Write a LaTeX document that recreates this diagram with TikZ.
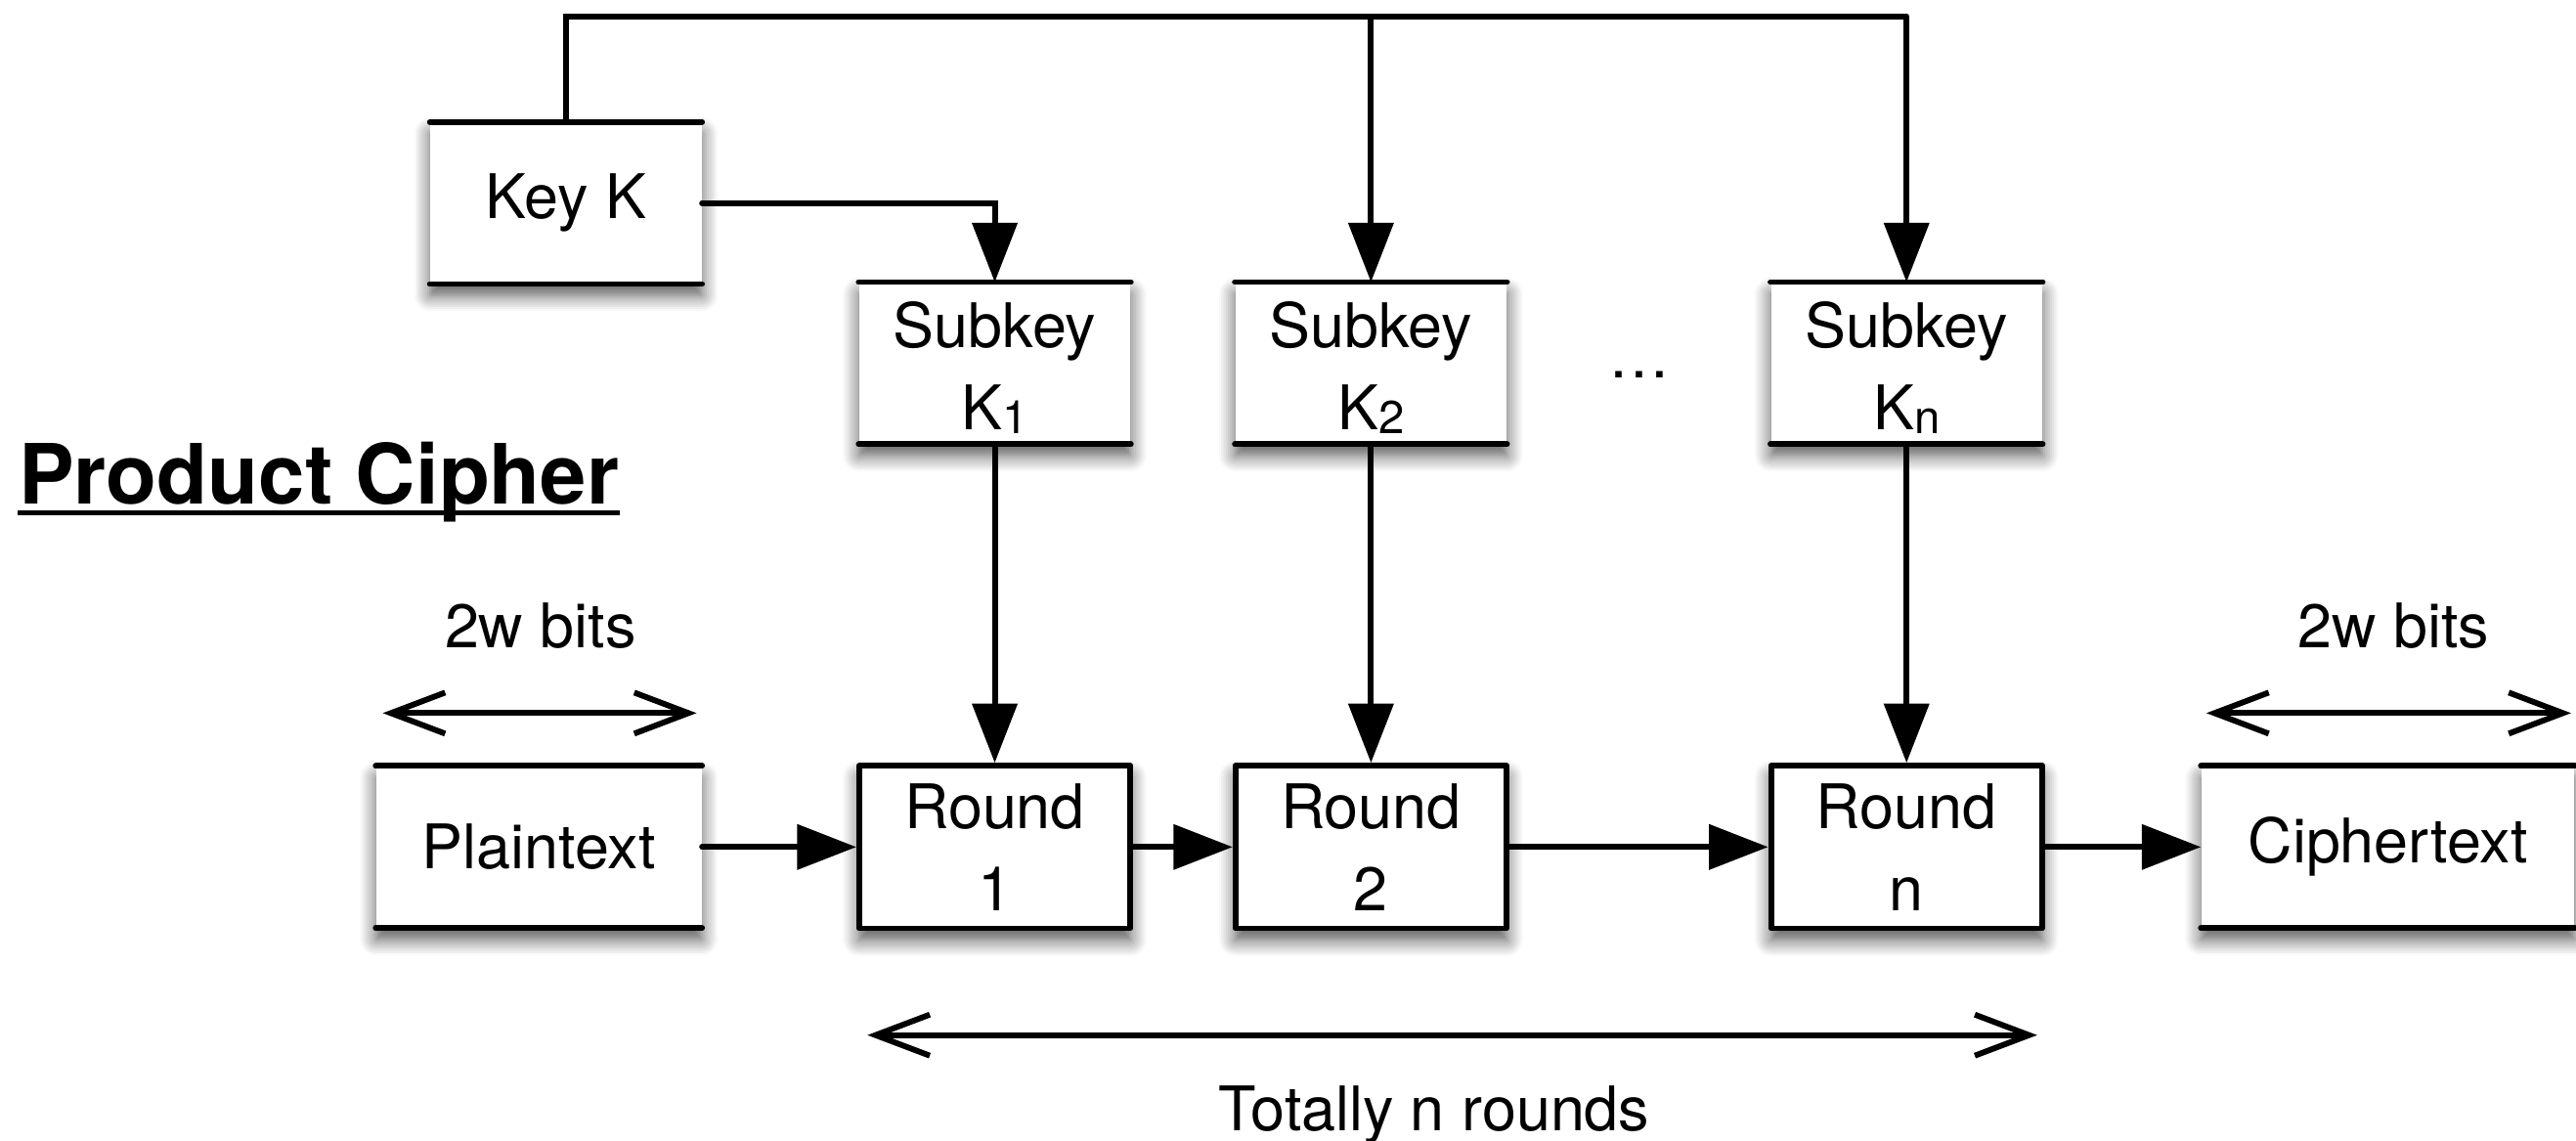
\documentclass[tikz,border=0pt]{standalone}
\usepackage{fontspec}
\setmainfont{TeX Gyre Heros}
\usetikzlibrary{arrows.meta,shadows.blur}

% small index after a key name, e.g. K1
\newcommand\kidx[1]{\raisebox{-0.06em}{\fontsize{16}{16}\selectfont #1}}

\begin{document}
\begin{tikzpicture}[x=0.02cm,y=-0.02cm,
  font=\fontsize{21.3}{28.5}\selectfont,
  wire/.style={line width=2pt,line cap=round},
  arr/.style={wire,-{Triangle[length=0.72cm,width=0.54cm]}},
  span/.style={wire,{Straight Barb[length=0.66cm,width=0.5cm]}-{Straight Barb[length=0.66cm,width=0.5cm]}},
  softshadow/.style={blur shadow={shadow xshift=0pt,shadow yshift=-0.14cm,
      shadow blur radius=0.2cm,shadow opacity=70,shadow blur steps=8}},
  slab/.style={fill=white,softshadow,inner sep=0pt,align=center,
      minimum width=3.3cm,minimum height=1.96cm},
  roundbox/.style={draw,line width=2pt,line join=round,fill=white,softshadow,
      inner sep=0pt,align=center,minimum width=3.3cm,minimum height=1.98cm},
]
\useasboundingbox (0,0) rectangle (1568,694);

% title
\node[font=\bfseries\fontsize{28.8}{34}\selectfont,inner sep=0pt,anchor=base west]
  (title) at (11,307) {Product Cipher};
\draw[line width=1.7pt] ([yshift=-0.1cm]title.base west) -- ([yshift=-0.1cm]title.base east);

% key and subkeys
\node[slab] (key) at (344.5,123.5) {Key K};
\node[slab] (sk1) at (605.5,221) {\rule{0pt}{0.9em}Subkey\\K\kidx{1}};
\node[slab] (sk2) at (834.5,221) {\rule{0pt}{0.9em}Subkey\\K\kidx{2}};
\node[slab] (skn) at (1160.5,221) {\rule{0pt}{0.9em}Subkey\\K\kidx{n}};
\node (dots) at (998,228) {…};

% data path
\node[slab,minimum width=3.96cm] (plain) at (328,515.5) {Plaintext};
\node[roundbox] (r1) at (605.5,515.5) {Round\\1};
\node[roundbox] (r2) at (834.5,515.5) {Round\\2};
\node[roundbox] (rn) at (1160.5,515.5) {Round\\n};
\node[slab,minimum width=4.54cm] (cipher) at (1453.5,515.5) {Ciphertext};

% top and bottom rules of the open boxes
\foreach \n in {key,sk1,sk2,skn,plain,cipher}
  \draw[wire] (\n.north west) -- (\n.north east) (\n.south west) -- (\n.south east);

% key schedule bus
\coordinate (busL) at (344.5,10);
\coordinate (busR) at (1160.5,10);
\draw[wire,line cap=butt] (key.north) -- (busL) -- (busR) -- ([yshift=0.01cm]busR);
\draw[arr] (busL -| sk2.north) -- (sk2.north);
\draw[arr] (busR) -- (skn.north);
\draw[arr] (key.east) -| (sk1.north);

% subkeys into rounds
\draw[arr] (sk1.south) -- (r1.north);
\draw[arr] (sk2.south) -- (r2.north);
\draw[arr] (skn.south) -- (rn.north);

% rounds chain
\draw[arr] (plain.east) -- (r1.west);
\draw[arr] (r1.east) -- (r2.west);
\draw[arr] (r2.east) -- (rn.west);
\draw[arr] (rn.east) -- (cipher.west);

% block widths
\coordinate (pa) at (233,434);
\coordinate (pb) at (424,434);
\draw[span] (pa) -- (pb);
\node[anchor=base] (pbits) at (329,394) {2w bits};
\coordinate (ca) at (1343,434);
\coordinate (cb) at (1565,434);
\draw[span] (ca) -- (cb);
\node[anchor=base] (cbits) at (1457,394) {2w bits};

% number of rounds
\coordinate (ta) at (528,630);
\coordinate (tb) at (1240,630);
\draw[span] (ta) -- (tb);
\node[anchor=base] (total) at (873,688) {Totally n rounds};
\end{tikzpicture}
\end{document}
